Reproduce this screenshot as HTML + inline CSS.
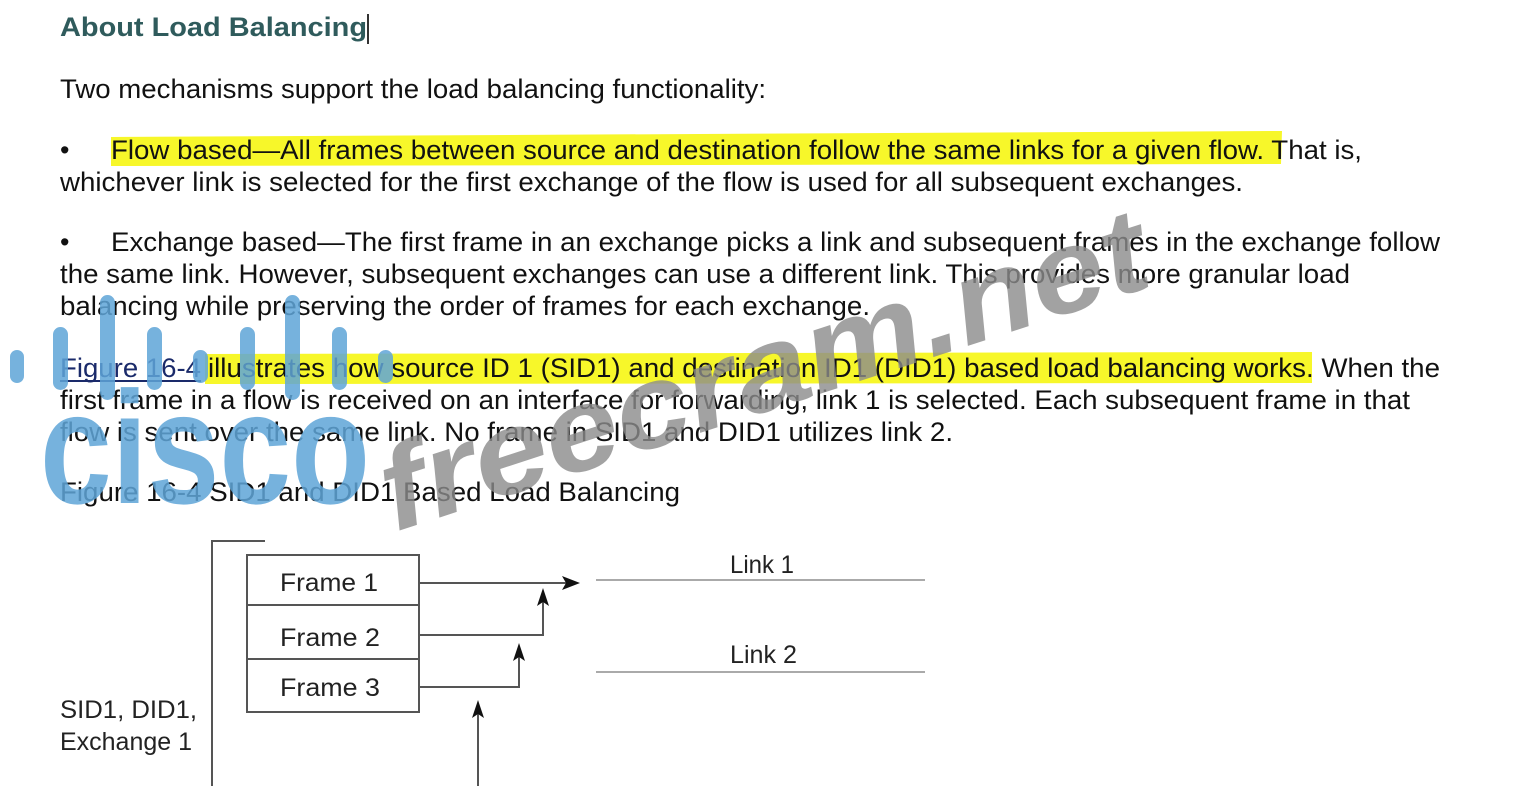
<!DOCTYPE html>
<html><head><meta charset="utf-8"><style>
html,body{margin:0;padding:0;background:#fff;}
svg{display:block;}
text{font-family:"Liberation Sans",Arial,sans-serif;}
</style></head><body>
<svg width="1523" height="786" viewBox="0 0 1523 786" xmlns="http://www.w3.org/2000/svg">
<rect width="1523" height="786" fill="#fff"/>
<path d="M111 137 L1282 131 L1281 164 L111 166 Z" fill="#f7f72a"/>
<path d="M205 354 L1312 352 L1312 383 L205 384 Z" fill="#f7f72a"/>

<g font-size="27" fill="#111">
<text x="60" y="36" font-weight="bold" fill="#2f5b5c" font-size="27" textLength="307" lengthAdjust="spacingAndGlyphs">About Load Balancing</text>
<rect x="367" y="14" width="2" height="30" fill="#333"/>
<text x="60" y="98" textLength="706" lengthAdjust="spacingAndGlyphs">Two mechanisms support the load balancing functionality:</text>
<text x="60" y="159">•</text>
<text x="111" y="159" textLength="1251" lengthAdjust="spacingAndGlyphs">Flow based—All frames between source and destination follow the same links for a given flow. That is,</text>
<text x="60" y="191" textLength="1183" lengthAdjust="spacingAndGlyphs">whichever link is selected for the first exchange of the flow is used for all subsequent exchanges.</text>
<text x="60" y="251">•</text>
<text x="111" y="251" textLength="1329" lengthAdjust="spacingAndGlyphs">Exchange based—The first frame in an exchange picks a link and subsequent frames in the exchange follow</text>
<text x="60" y="283" textLength="1290" lengthAdjust="spacingAndGlyphs">the same link. However, subsequent exchanges can use a different link. This provides more granular load</text>
<text x="60" y="315" textLength="810" lengthAdjust="spacingAndGlyphs">balancing while preserving the order of frames for each exchange.</text>
<text x="60" y="377" fill="#1a2a6a" textLength="141" lengthAdjust="spacingAndGlyphs">Figure 16-4</text>
<rect x="60" y="380" width="141" height="2" fill="#1a2a6a"/>
<text x="208" y="377" textLength="1232" lengthAdjust="spacingAndGlyphs">illustrates how source ID 1 (SID1) and destination ID1 (DID1) based load balancing works. When the</text>
<text x="60" y="409" textLength="1350" lengthAdjust="spacingAndGlyphs">first frame in a flow is received on an interface for forwarding, link 1 is selected. Each subsequent frame in that</text>
<text x="60" y="441" textLength="893" lengthAdjust="spacingAndGlyphs">flow is sent over the same link. No frame in SID1 and DID1 utilizes link 2.</text>
<text x="60" y="501" textLength="620" lengthAdjust="spacingAndGlyphs">Figure 16-4 SID1 and DID1 Based Load Balancing</text>
</g>

<g stroke="#555" fill="none" stroke-width="2">
<path d="M212 786 L212 541 L265 541"/>
<rect x="247" y="555" width="172" height="157"/>
<line x1="247" y1="605" x2="419" y2="605"/>
<line x1="247" y1="659" x2="419" y2="659"/>
<path d="M419 583 L568 583"/>
<path d="M419 635 L543 635 L543 600"/>
<path d="M419 687 L519 687 L519 656"/>
<path d="M478 786 L478 712"/>
</g>
<g fill="#111">
<path d="M580 583 L562 576 L566 583 L562 590 Z"/>
<path d="M543 588 L537 606 L543 602 L549 606 Z"/>
<path d="M519 643 L513 661 L519 657 L525 661 Z"/>
<path d="M478 700 L472 718 L478 714 L484 718 Z"/>
</g>
<g stroke="#aaa" stroke-width="2"><line x1="596" y1="580" x2="925" y2="580"/><line x1="596" y1="672" x2="925" y2="672"/></g>
<g font-size="25" fill="#222">
<text x="280" y="591" textLength="98" lengthAdjust="spacingAndGlyphs">Frame  1</text>
<text x="280" y="646" textLength="100" lengthAdjust="spacingAndGlyphs">Frame  2</text>
<text x="280" y="696" textLength="100" lengthAdjust="spacingAndGlyphs">Frame  3</text>
<text x="730" y="573" textLength="64" lengthAdjust="spacingAndGlyphs">Link 1</text>
<text x="730" y="663" textLength="67" lengthAdjust="spacingAndGlyphs">Link 2</text>
<text x="60" y="718" textLength="137" lengthAdjust="spacingAndGlyphs">SID1, DID1,</text>
<text x="60" y="750" textLength="132" lengthAdjust="spacingAndGlyphs">Exchange 1</text>
</g>

<g fill="#5fa5d8" opacity="0.85">
<rect x="10" y="350" width="14" height="33" rx="7"/>
<rect x="53" y="327" width="15" height="63" rx="7.5"/>
<rect x="100" y="295" width="15" height="105" rx="7.5"/>
<rect x="147" y="327" width="15" height="63" rx="7.5"/>
<rect x="193" y="350" width="15" height="33" rx="7.5"/>
<rect x="240" y="327" width="15" height="63" rx="7.5"/>
<rect x="285" y="295" width="15" height="105" rx="7.5"/>
<rect x="332" y="327" width="15" height="63" rx="7.5"/>
<rect x="378" y="350" width="15" height="33" rx="7.5"/>
<text x="40" y="503" font-size="160" font-weight="bold" textLength="330" lengthAdjust="spacingAndGlyphs">cisco</text>
</g>
<text x="0" y="0" transform="translate(395,532) rotate(-18)" font-size="118" font-weight="bold" font-style="italic" fill="#8c8c8c" opacity="0.8" textLength="800" lengthAdjust="spacingAndGlyphs">freecram.net</text>
</svg>
</body></html>
